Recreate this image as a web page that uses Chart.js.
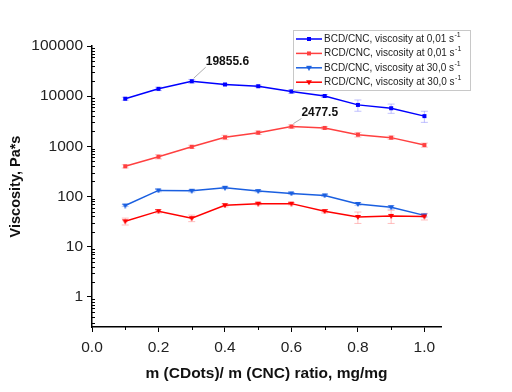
<!DOCTYPE html>
<html><head><meta charset="utf-8">
<script src="https://cdn.jsdelivr.net/npm/chart.js@4.4.1/dist/chart.umd.min.js"></script>
<style>html,body{margin:0;padding:0;background:#fff}#w{width:512px;height:392px}</style>
</head><body><div id="w"><canvas id="c" width="512" height="392"></canvas></div>
<script>
const ratios = [0.1,0.2,0.3,0.4,0.5,0.6,0.7,0.8,0.9,1.0];
const bcdLow = [8900,14000,19855.6,17100,15800,12400,10100,6700,5750,4000];
const bcdLowErr = [600,1100,1700,700,800,1000,700,1700,1200,1000];
const rcdLow = [400,620,980,1510,1870,2477.5,2330,1710,1490,1060];
const rcdLowErr = [30,60,70,150,150,200,150,180,120,100];
const bcdHigh = [66,132,130,149,128,115,105,71,61,42];
const bcdHighErr = [3,8,8,8,6,5,5,5,5,3];
const rcdHigh = [32,51,37,67,72,72,51,39,41,40];
const rcdHighErr = [5,4,5.5,5,4,4,4,10,12,6];
const seriesLabels = ['BCD/CNC, viscosity at 0,01 s','RCD/CNC, viscosity at 0,01 s','BCD/CNC, viscosity at 30,0 s','RCD/CNC, viscosity at 30,0 s'];
const unitSup = '-1';
const yMajorTicks = [1,10,100,1000,10000,100000];
const yTickLabels = ['1','10','100','1000','10000','100000'];
const xMajorTicks = [0,0.2,0.4,0.6,0.8,1.0];
const xTickLabels = ['0.0','0.2','0.4','0.6','0.8','1.0'];
const annotations = [{x:0.3,y:19855.6,text:'19855.6',dx:14,dy:-20},{x:0.6,y:2477.5,text:'2477.5',dx:10,dy:-14}];

const FONT='"Liberation Sans", Arial, sans-serif';
const colors = ['#0000FF','#FF4040','#1A5FE0','#FF0000'];
const errColors = ['rgba(120,120,255,0.45)','rgba(255,120,120,0.45)','rgba(120,150,240,0.45)','rgba(255,110,110,0.45)'];
const shapes = ['rect','rect','triangle','triangle'];

function pts(v){return ratios.map((x,i)=>({x:x,y:v[i]}));}
const vals=[bcdLow,rcdLow,bcdHigh,rcdHigh];
const errs=[bcdLowErr,rcdLowErr,bcdHighErr,rcdHighErr];

function makeMarker(color,shape){
  const c=document.createElement('canvas');c.width=6;c.height=6;
  const g=c.getContext('2d');g.fillStyle=color;
  if(shape==='rect'){g.fillRect(1,1,4,4);}
  else{g.beginPath();g.moveTo(0,1);g.lineTo(6,1);g.lineTo(3,6);g.closePath();g.fill();}
  return c;
}
const markers = colors.map((c,i)=>makeMarker(c,shapes[i]));

const datasets = vals.map((v,i)=>({
  label: seriesLabels[i]+' '+unitSup,
  data: pts(v),
  borderColor: colors[i],
  backgroundColor: colors[i],
  borderWidth: 1.5,
  pointStyle: markers[i],
  pointRadius: 3,
  showLine: true,
  tension: 0,
  order: 4-i
}));

const errorBars = {
  id:'errorBars',
  beforeDatasetsDraw(chart){
    const g=chart.ctx, xs=chart.scales.x, ys=chart.scales.y;
    g.save();
    vals.forEach((v,i)=>{
      g.strokeStyle=errColors[i];g.lineWidth=1;
      v.forEach((val,j)=>{
        const px=xs.getPixelForValue(ratios[j]);
        const p1=ys.getPixelForValue(val+errs[i][j]);
        const p2=ys.getPixelForValue(Math.max(val-errs[i][j],1e-6));
        g.beginPath();
        g.moveTo(px,p1);g.lineTo(px,p2);
        g.moveTo(px-3.5,p1);g.lineTo(px+3.5,p1);
        g.moveTo(px-3.5,p2);g.lineTo(px+3.5,p2);
        g.stroke();
      });
    });
    g.restore();
  },
  afterDraw(chart){
    const g=chart.ctx, xs=chart.scales.x, ys=chart.scales.y;
    g.save();
    g.strokeStyle='#000';g.lineWidth=1;
    for(let d=-1; d<5; d++){
      for(let m=2;m<10;m++){
        const v=m*Math.pow(10,d);
        if(v<ys.min||v>ys.max) continue;
        const py=Math.round(ys.getPixelForValue(v))+0.5;
        g.beginPath();g.moveTo(xs.left,py);g.lineTo(xs.left+3,py);g.stroke();
      }
    }
    for(let k=1;k<10;k+=2){
      const px=Math.round(xs.getPixelForValue(k/10))+0.5;
      g.beginPath();g.moveTo(px,ys.bottom);g.lineTo(px,ys.bottom+3);g.stroke();
    }
    g.font='bold 12px '+FONT;
    g.fillStyle='#111';g.textBaseline='middle';g.textAlign='left';
    annotations.forEach(a=>{
      const px=xs.getPixelForValue(a.x), py=ys.getPixelForValue(a.y);
      g.strokeStyle='#999';g.lineWidth=0.8;
      g.beginPath();g.moveTo(px+2,py-3);g.lineTo(px+a.dx,py+a.dy+6);g.stroke();
      g.fillText(a.text,px+a.dx,py+a.dy);
    });
    const lx=293, ly=30, lw=177, lh=60;
    g.fillStyle='#fff';g.fillRect(lx,ly,lw,lh);
    g.strokeStyle='#c8c8c8';g.lineWidth=1;g.strokeRect(lx+0.5,ly+0.5,lw,lh);
    seriesLabels.forEach((t,i)=>{
      const y=ly+9+i*14.4;
      g.strokeStyle=colors[i];g.lineWidth=1.5;
      g.beginPath();g.moveTo(lx+3,y);g.lineTo(lx+29,y);g.stroke();
      g.drawImage(markers[i],lx+13,y-3);
      g.fillStyle='#222';g.font='10px '+FONT;
      g.textAlign='left';g.textBaseline='middle';
      g.fillText(t,lx+31,y);
      const w=g.measureText(t).width;
      g.font='7px '+FONT;
      g.fillText(unitSup,lx+31+w+0.5,y-4);
    });
    g.restore();
  }
};

new Chart(document.getElementById('c'),{
  type:'scatter',
  data:{datasets},
  plugins:[errorBars],
  options:{
    responsive:false,animation:false,
    layout:{padding:{top:46,right:71,left:7,bottom:9}},
    plugins:{legend:{display:false},tooltip:{enabled:false}},
    scales:{
      x:{
        type:'linear',min:0,max:1.05,
        afterBuildTicks:s=>{s.ticks=xMajorTicks.map(v=>({value:v}));},
        afterFit:s=>{s.height=56;},
        ticks:{color:'#222',font:{family:FONT,size:15.5},padding:6,
          callback:(v)=>{const i=xMajorTicks.findIndex(t=>Math.abs(t-v)<1e-9);return i>=0?xTickLabels[i]:'';}},
        grid:{display:true,drawOnChartArea:false,drawTicks:true,tickLength:5,color:'#000'},
        border:{display:true,color:'#000',width:1.5},
        title:{display:true,text:'m (CDots)/ m (CNC) ratio, mg/mg',color:'#111',font:{family:FONT,size:15.5,weight:'bold'},padding:{top:2,bottom:0}}
      },
      y:{
        type:'logarithmic',min:0.25,max:100000,
        afterBuildTicks:s=>{s.ticks=yMajorTicks.map(v=>({value:v}));},
        afterFit:s=>{s.width=85;},
        ticks:{color:'#222',font:{family:FONT,size:15.5},padding:4,
          callback:(v)=>{const i=yMajorTicks.indexOf(v);return i>=0?yTickLabels[i]:'';}},
        grid:{display:true,drawOnChartArea:false,drawTicks:true,tickLength:5,color:'#000'},
        border:{display:true,color:'#000',width:1.5},
        title:{display:true,text:'Viscosity, Pa*s',color:'#111',font:{family:FONT,size:14.5,weight:'bold'},padding:{top:0,bottom:4}}
      }
    }
  }
});
</script></body></html>
